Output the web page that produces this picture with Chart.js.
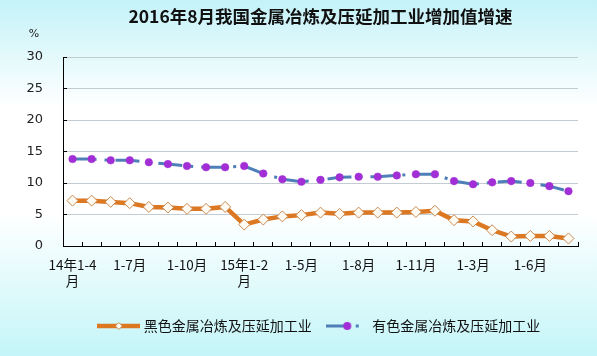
<!DOCTYPE html>
<html>
<head>
<meta charset="utf-8">
<script src="https://cdn.jsdelivr.net/npm/chart.js@4/dist/chart.umd.min.js"></script>
<style>
html,body{margin:0;padding:0;background:#fff;overflow:hidden}
canvas{display:block}
</style>
</head>
<body>
<canvas id="c" width="597" height="356"></canvas>
<script>
// ---------- data ----------
const titleText = '2016年8月我国金属冶炼及压延加工业增加值增速';
const unitLabel = '%';
const categories = [
  '2014年1-4月','2014年1-5月','2014年1-6月','2014年1-7月','2014年1-8月','2014年1-9月','2014年1-10月','2014年1-11月','2014年1-12月',
  '2015年1-2月','2015年1-3月','2015年1-4月','2015年1-5月','2015年1-6月','2015年1-7月','2015年1-8月','2015年1-9月','2015年1-10月','2015年1-11月','2015年1-12月',
  '2016年1-2月','2016年1-3月','2016年1-4月','2016年1-5月','2016年1-6月','2016年1-7月','2016年1-8月'
];
const tickLabels = [['14年1-4','月'],'1-7月','1-10月',['15年1-2','月'],'1-5月','1-8月','1-11月','1-3月','1-6月'];
const yTicks = [0, 5, 10, 15, 20, 25, 30];
const ferrousLabel = '黑色金属冶炼及压延加工业';
const ferrousValues = [7.2,7.2,7.0,6.8,6.2,6.1,5.9,5.9,6.2, 3.4,4.2,4.7,4.9,5.3,5.1,5.3,5.3,5.3,5.4,5.6, 4.1,3.9,2.5,1.5,1.6,1.6,1.2];
const nonferrousLabel = '有色金属冶炼及压延加工业';
const nonferrousValues = [13.8,13.8,13.6,13.6,13.3,13.0,12.7,12.5,12.5, 12.7,11.5,10.6,10.2,10.5,10.9,11.0,11.0,11.2,11.4,11.4, 10.3,9.8,10.1,10.3,10.0,9.5,8.7];

// ---------- styles ----------
const ORANGE = '#dc7722';
const DIAMOND_BORDER = '#c98a52';
const DIAMOND_FILL = '#fffaf2';
const BLUE = '#4f7fb8';
const PURPLE = '#a22fd6';
const CJK = '"Noto Sans CJK SC", "Noto Sans", sans-serif';

function makeSample(draw) {
  const c = document.createElement('canvas');
  c.width = 43; c.height = 14;
  draw(c.getContext('2d'));
  return c;
}
const ferrousSample = makeSample(g => {
  g.strokeStyle = ORANGE; g.lineWidth = 4.5;
  g.beginPath(); g.moveTo(0, 7); g.lineTo(43, 7); g.stroke();
  g.beginPath(); g.moveTo(21.5, 3.5); g.lineTo(25, 7); g.lineTo(21.5, 10.5); g.lineTo(18, 7); g.closePath();
  g.fillStyle = DIAMOND_FILL; g.fill(); g.strokeStyle = DIAMOND_BORDER; g.lineWidth = 1; g.stroke();
});
const nonferrousSample = makeSample(g => {
  g.strokeStyle = BLUE; g.lineWidth = 3; g.setLineDash([20, 10, 3, 10]);
  g.beginPath(); g.moveTo(0, 7); g.lineTo(43, 7); g.stroke();
  g.setLineDash([]);
  g.beginPath(); g.arc(21.5, 7, 4, 0, Math.PI * 2); g.fillStyle = PURPLE; g.fill();
});
const samples = [ferrousSample, nonferrousSample];

const bgPlugin = {
  id: 'bg',
  beforeDraw(chart) {
    const {ctx, width, height} = chart;
    const gr = ctx.createLinearGradient(0, 0, 0, height);
    gr.addColorStop(0, '#c4f2f8');
    gr.addColorStop(0.3, '#ffffff');
    gr.addColorStop(0.6, '#ffffff');
    gr.addColorStop(1, '#c4f5f8');
    ctx.save(); ctx.fillStyle = gr; ctx.fillRect(0, 0, width, height); ctx.restore();
  }
};
const unitPlugin = {
  id: 'unit',
  afterDraw(chart) {
    const {ctx, chartArea} = chart;
    const y = chart.scales.y;
    ctx.save();
    ctx.font = '11px "DejaVu Sans", sans-serif';
    ctx.fillStyle = '#222';
    ctx.textAlign = 'center';
    ctx.textBaseline = 'middle';
    ctx.fillText(unitLabel, y.right - 29, chartArea.top - 23);
    ctx.restore();
  }
};

new Chart(document.getElementById('c'), {
  type: 'line',
  data: {
    labels: categories,
    datasets: [
      {
        label: ferrousLabel,
        data: ferrousValues,
        borderColor: ORANGE,
        borderWidth: 4.5,
        tension: 0,
        pointStyle: 'rectRot',
        pointRadius: 5.5,
        pointBackgroundColor: DIAMOND_FILL,
        pointBorderColor: DIAMOND_BORDER,
        pointBorderWidth: 1
      },
      {
        label: nonferrousLabel,
        data: nonferrousValues,
        borderColor: BLUE,
        borderWidth: 3,
        borderDash: [24, 8, 3, 8],
        tension: 0,
        pointStyle: 'circle',
        pointRadius: 3.8,
        pointBackgroundColor: PURPLE,
        pointBorderColor: PURPLE,
        pointBorderWidth: 0.5
      }
    ]
  },
  options: {
    responsive: false,
    animation: false,
    devicePixelRatio: 1,
    layout: { padding: { top: 0, left: 0, right: 19, bottom: 13 } },
    plugins: {
      tooltip: { enabled: false },
      title: {
        display: true,
        text: titleText,
        fullSize: false,
        color: '#111',
        font: { family: CJK, size: 17.5, weight: 'bold', lineHeight: 1.2 },
        padding: { top: 6, bottom: 30 }
      },
      legend: {
        display: true,
        position: 'bottom',
        fullSize: false,
        maxHeight: 41.5,
        labels: {
          usePointStyle: true,
          pointStyleWidth: 36,
          padding: 17.5,
          color: '#111',
          font: { family: CJK, size: 14 },
          generateLabels(chart) {
            const items = Chart.defaults.plugins.legend.labels.generateLabels(chart);
            items.forEach((it, i) => { it.pointStyle = samples[i]; });
            return items;
          }
        }
      }
    },
    scales: {
      x: {
        type: 'category',
        offset: true,
        afterFit(s) { s.height = 55.5; },
        border: { display: true, color: '#000', width: 1 },
        grid: { display: true, drawOnChartArea: false, drawTicks: true, tickLength: -4, tickColor: '#000', offset: true },
        ticks: {
          autoSkip: false, maxRotation: 0, minRotation: 0,
          padding: 15,
          color: '#111',
          font: { family: CJK, size: 13.5, lineHeight: 1.2 },
          callback(v, i) { return i % 3 === 0 ? tickLabels[i / 3] : ''; }
        }
      },
      y: {
        min: 0, max: 30,
        afterFit(s) { s.width = 63; },
        afterBuildTicks(s) { s.ticks = yTicks.map(v => ({ value: v })); },
        border: { display: true, color: '#000', width: 1 },
        grid: { color: '#c3cbd3', lineWidth: 1, drawTicks: true, tickLength: -4, tickColor: '#000' },
        ticks: {
          padding: 24,
          color: '#222',
          font: { family: '"DejaVu Sans", sans-serif', size: 13 }
        }
      }
    }
  },
  plugins: [bgPlugin, unitPlugin]
});
</script>
</body>
</html>
